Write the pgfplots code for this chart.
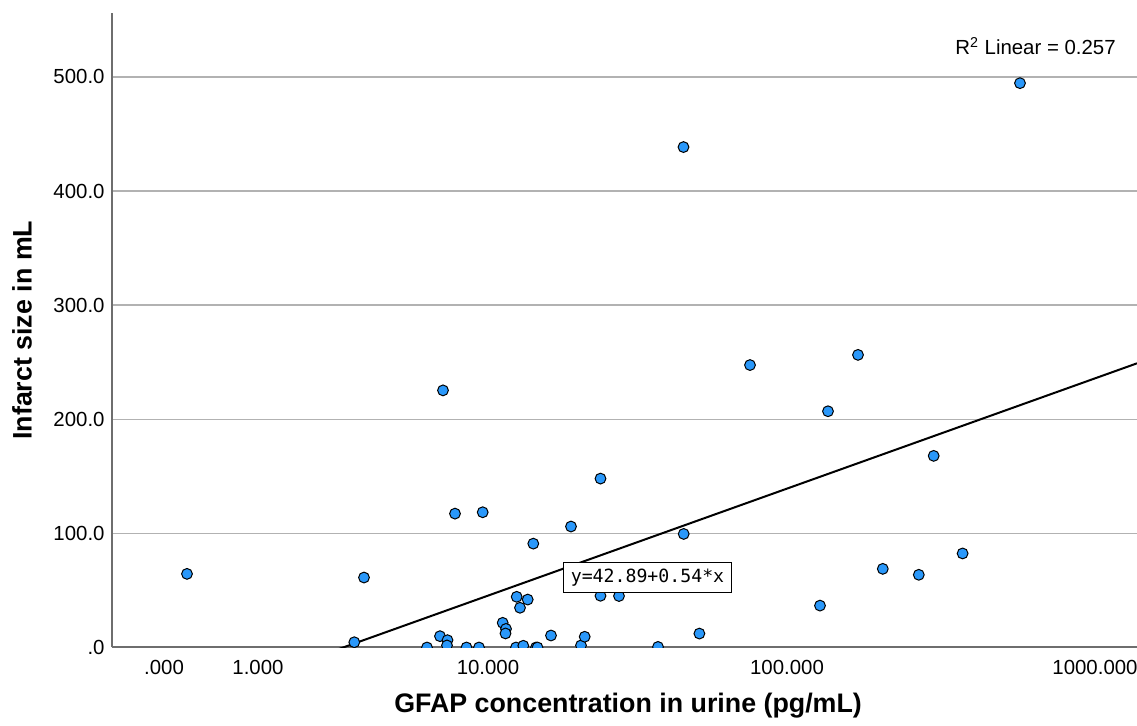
\documentclass[border=0pt]{standalone}
\usepackage{fontspec}
\setmainfont{Liberation Sans}
\newfontfamily\monofont{DejaVu Sans Mono}
\usepackage{pgfplots}
\pgfplotsset{compat=1.18}
\usepackage{pgfplotstable}
\definecolor{ptblue}{RGB}{42,152,250}
\definecolor{gridgray}{RGB}{178,178,178}
\definecolor{axgray}{RGB}{110,110,110}

% scatter data: x in reference pixel units of the (quasi-log) axis, y = infarct size (mL)
\pgfplotstableread{
x y
187 64.5
354.3 4.6
364 61.3
427 0
440 9.9
443 225.3
447.5 6.4
447 1.8
455 117.3
466.5 0
479 0
482.7 118.5
502.7 21.6
506 16.3
505.5 12.3
516 0
516.7 44.4
520 34.8
523.3 1.5
527.7 42
533.3 91
536 0
537.5 0
551 10.5
571 106
581 1.8
584.7 9.4
600.5 45.3
600.5 148
619 45.1
658 0.5
683.5 438.5
683.7 99.5
699.4 12.2
750 247.5
820 36.7
828 207
858 256.4
882.8 68.9
918.8 63.7
933.7 167.9
962.6 82.4
1020 494.5
}\scatterdata

\begin{document}
\begin{tikzpicture}[x=1pt,y=1pt]
\useasboundingbox (-56,-39.25) rectangle (512.5,323.75);
\begin{axis}[
  at={(0,0)}, anchor=south west,
  scale only axis, width=512.5pt, height=317.25pt,
  xmin=112, xmax=1137, ymin=0, ymax=556,
  axis lines=left,
  axis line style={-, draw=axgray, line width=1pt},
  major tick length=0pt,
  ytick={0,100,200,300,400,500},
  yticklabels={.0,100.0,200.0,300.0,400.0,500.0},
  xtick={164,258,488,787,1095},
  xticklabels={.000,1.000,10.000,100.000,1000.000},
  ymajorgrids, xmajorgrids=false,
  grid style={draw=gridgray, line width=0.65pt},
  tick label style={font=\fontsize{10.2}{12}\selectfont},
  x tick label style={anchor=base, yshift=-13.75pt},
  y tick label style={anchor=east, xshift=-0.2pt},
  xlabel={GFAP concentration in urine (pg/mL)},
  ylabel={Infarct size in mL},
  label style={font=\bfseries\fontsize{13.4}{16}\selectfont},
  xlabel style={at={(axis description cs:0.5035,-0.1032)}, anchor=base},
  ylabel style={at={(axis description cs:-0.0785,0.5)}, anchor=base, rotate=0},
  clip marker paths=true,
]
\addplot[black, line width=1pt] coordinates {(112,-72.5) (1137,249)};
\addplot[only marks, mark=*, mark size=2.7pt,
  mark options={fill=ptblue, draw=black, line width=0.5pt}] table[x=x,y=y] {\scatterdata};
\node[font=\fontsize{10.2}{12}\selectfont] at (axis cs:1035.5,526.7) {R\textsuperscript{2} Linear = 0.257};
\node[draw=black, fill=white, line width=0.5pt, inner sep=0pt,
  minimum width=84.2pt, minimum height=15pt,
  font=\monofont\fontsize{9.1}{11}\selectfont] at (axis cs:647.5,61.5) {y=42.89+0.54*x};
\end{axis}
\end{tikzpicture}
\end{document}
